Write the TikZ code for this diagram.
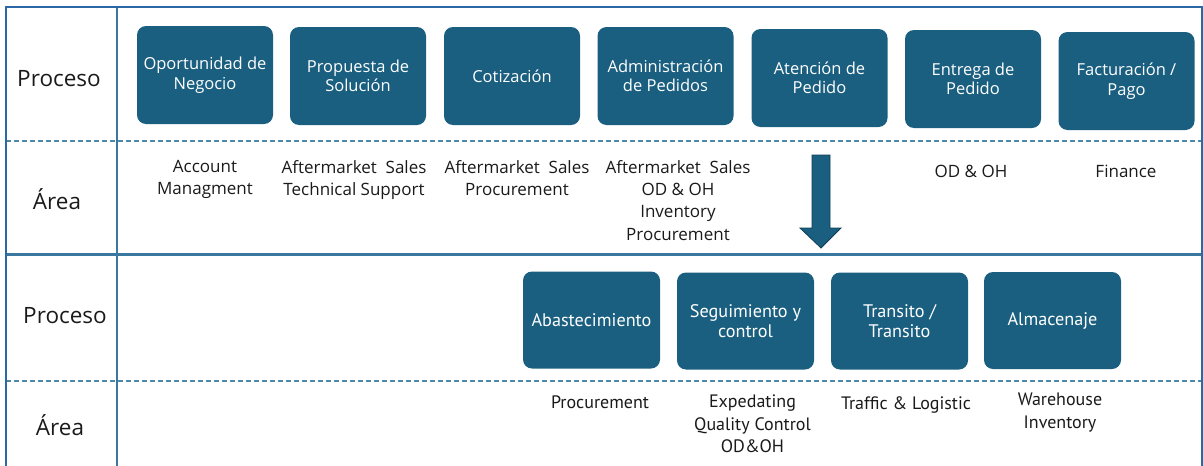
\documentclass[tikz,border=0pt]{standalone}
\usepackage{fontspec}
\setmainfont{Open Sans}
\newfontfamily\narrowfont{PT Sans}
\definecolor{boxblue}{HTML}{1A5F80}
\definecolor{arrowedge}{HTML}{0F3F56}
\definecolor{frameblue}{HTML}{2C67A6}
\definecolor{ruleblue}{HTML}{3A78A0}
\definecolor{dashblue}{HTML}{4D87AA}
\definecolor{inktext}{HTML}{1A1A1A}
\begin{document}
\begin{tikzpicture}[x=1pt,y=-1pt,
  stage/.style={fill=boxblue, rounded corners=9pt, text=white, align=center,
    minimum width=136pt, minimum height=98pt, inner sep=2pt,
    font=\fontsize{16.5}{19.5}\selectfont},
  lowstage/.style={stage, minimum width=137pt, minimum height=97pt,
    font=\narrowfont\fontsize{18.2}{19.5}\selectfont},
  areatext/.style={anchor=north, align=center, inner sep=0pt, text=inktext,
    font=\fontsize{17}{22.3}\selectfont},
  lowarea/.style={anchor=north, align=center, inner sep=0pt, text=inktext,
    font=\narrowfont\fontsize{18}{22.3}\selectfont},
  rowlabel/.style={anchor=base, inner sep=0pt, text=inktext, font=\fontsize{22.5}{24}\selectfont},
  frameline/.style={draw=frameblue, line width=2.2pt},
  rowrule/.style={draw=ruleblue, line width=2.4pt},
  dashrule/.style={draw=dashblue, line width=1.4pt, dash pattern=on 5pt off 3pt},
]
\useasboundingbox (0,0) rectangle (1203,466);

% table rules
\draw[dashrule] (6,141) -- (1202,141);
\draw[dashrule] (6,381) -- (1202,381);
\draw[rowrule] (6,254.5) -- (1202,254.5);
\draw[rowrule] (117,7) -- (117,470);
\draw[frameline] (6,470) -- (6,7) -- (1202,7) -- (1202,470);

% row labels
\node[rowlabel] (lp1) at (59,86) {Proceso};
\node[rowlabel] (la1) at (57,209) {Área};
\node[rowlabel] (lp2) at (65,323) {Proceso};
\node[rowlabel] (la2) at (60,435) {Área};

% first process row
\node[stage] (s1) at (205,75) {Oportunidad de\\Negocio};
\node[stage] (s2) at (358,76) {Propuesta de\\Solución};
\node[stage] (s3) at (512,76) {Cotización};
\node[stage] (s4) at (665.5,76) {Administración\\de Pedidos};
\node[stage] (s5) at (819.5,78) {Atención de\\Pedido};
\node[stage] (s6) at (973,79) {Entrega de\\Pedido};
\node[stage] (s7) at (1126.5,81) {Facturación /\\Pago};

% first area row
\node[areatext] (a1) at (205,160) {Account\\Managment};
\node[areatext] (a2) at (354,160) {Aftermarket\ \ Sales\\Technical Support};
\node[areatext] (a3) at (517,160) {Aftermarket\ \ Sales\\Procurement};
\node[areatext] (a4) at (678,160) {Aftermarket\ \ Sales\\OD \& OH\\Inventory\\Procurement};
\node[areatext] (a6) at (971,165) {OD \& OH};
\node[areatext] (a7) at (1126,165) {Finance};

% block arrow between the two process rows
\coordinate (arrtop) at (821,155);
\draw[fill=boxblue, draw=arrowedge, line width=0.8pt, line join=miter]
  ([xshift=-9pt]arrtop) -- ([xshift=9pt]arrtop) -- ([xshift=9pt,yshift=-73pt]arrtop)
  -- ([xshift=20pt,yshift=-73pt]arrtop) -- ([yshift=-93pt]arrtop)
  -- ([xshift=-21pt,yshift=-73pt]arrtop) -- ([xshift=-9pt,yshift=-73pt]arrtop) -- cycle;

% second process row
\node[lowstage] (t1) at (591.5,320) {Abastecimiento};
\node[lowstage] (t2) at (745.5,321) {Seguimiento y\\control};
\node[lowstage] (t3) at (899.5,321) {Transito /\\Transito};
\node[lowstage] (t4) at (1052.5,320.5) {Almacenaje};

% second area row
\node[lowarea] (b1) at (600,396) {Procurement};
\node[lowarea] (b2) at (752.5,395) {Expedating\\Quality Control\\OD\&OH};
\node[lowarea] (b3) at (906,396) {Traffic \& Logistic};
\node[lowarea] (b4) at (1060,393) {Warehouse\\Inventory};
\end{tikzpicture}
\end{document}
